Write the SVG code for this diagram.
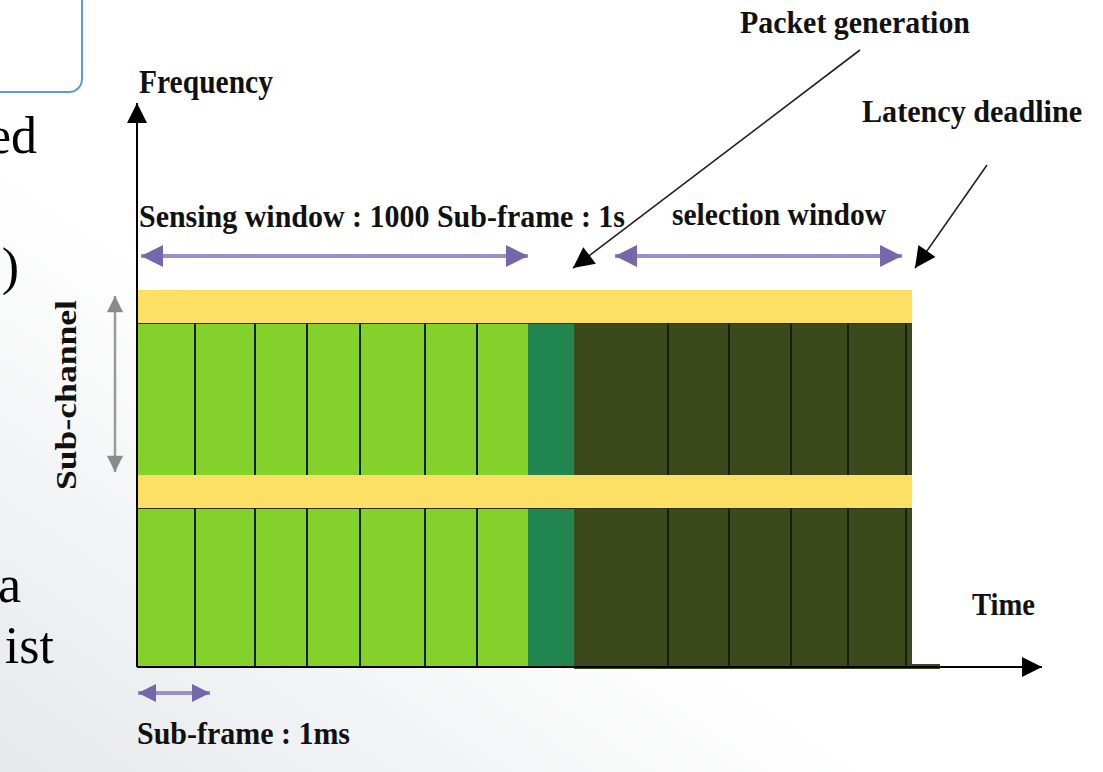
<svg xmlns="http://www.w3.org/2000/svg" width="1103" height="772" viewBox="0 0 1103 772">
<defs>
<style>
.lbl{font-family:"Liberation Serif","Times New Roman",serif;font-weight:bold;fill:#111;}
.body{font-family:"Liberation Serif","Times New Roman",serif;fill:#000;font-size:52px;}
.vline{stroke:#15200c;stroke-width:2;}
.purple{stroke:#9a90c6;stroke-width:4;fill:none;}
.blk{stroke:#222;stroke-width:1.6;fill:none;}
</style>
<marker id="pur" viewBox="0 0 10 10" refX="10" refY="5" markerWidth="6" markerHeight="5.5" markerUnits="strokeWidth" orient="auto-start-reverse"><path d="M0,0 L10,5 L0,10 z" fill="#7467ab"/></marker>
<marker id="purS" viewBox="0 0 10 10" refX="10" refY="5" markerWidth="4.5" markerHeight="4.5" markerUnits="strokeWidth" orient="auto-start-reverse"><path d="M0,0 L10,5 L0,10 z" fill="#7467ab"/></marker>
<marker id="blkA" viewBox="0 0 10 10" refX="10" refY="5" markerWidth="15" markerHeight="10" markerUnits="strokeWidth" orient="auto"><path d="M0,0 L10,5 L0,10 z" fill="#000"/></marker>
<marker id="blkP" viewBox="0 0 10 10" refX="10" refY="5" markerWidth="16" markerHeight="13" markerUnits="strokeWidth" orient="auto"><path d="M0,0 L10,5 L0,10 z" fill="#000"/></marker>
<marker id="grayA" viewBox="0 0 10 10" refX="10" refY="5" markerWidth="9" markerHeight="6.5" markerUnits="strokeWidth" orient="auto-start-reverse"><path d="M0,0 L10,5 L0,10 z" fill="#8a8a8a"/></marker>
<linearGradient id="bg" x1="0" y1="1" x2="0.4" y2="0.6">
<stop offset="0" stop-color="#e6e8ea"/>
<stop offset="1" stop-color="#ffffff"/>
</linearGradient>
</defs>
<rect width="1103" height="772" fill="url(#bg)"/>

<g id="topbox">
<rect x="-20" y="-20" width="102" height="112" rx="13" ry="13" fill="#fff" stroke="#5b9bd5" stroke-width="2"/>
</g>

<g id="slide-text">
<text class="body" x="37" y="153" text-anchor="end">ed</text>
<text class="body" x="19" y="284" text-anchor="end">)</text>
<text class="body" x="21" y="602" text-anchor="end">a</text>
<text class="body" x="54" y="663" text-anchor="end">ist</text>
</g>

<g id="grid">
<rect x="137" y="290" width="775" height="33" fill="#fce066"/>
<rect x="137" y="475" width="775" height="33" fill="#fce066"/>
<rect x="137" y="323" width="391" height="152" fill="#84d12c"/>
<rect x="137" y="508" width="391" height="159" fill="#84d12c"/>
<rect x="528" y="323" width="46" height="152" fill="#21854f"/>
<rect x="528" y="508" width="46" height="159" fill="#21854f"/>
<rect x="574" y="323" width="338" height="152" fill="#3c4a1b"/>
<rect x="574" y="508" width="338" height="159" fill="#3c4a1b"/>
<rect x="574" y="664" width="366" height="5" fill="#3c4a1b"/>
<line x1="137" y1="323.5" x2="912" y2="323.5" stroke="#2a3010" stroke-width="1"/>
<line x1="137" y1="508.5" x2="912" y2="508.5" stroke="#2a3010" stroke-width="1"/>
<g class="vline">
<line x1="195" y1="323" x2="195" y2="475"/><line x1="195" y1="508" x2="195" y2="667"/>
<line x1="255" y1="323" x2="255" y2="475"/><line x1="255" y1="508" x2="255" y2="667"/>
<line x1="307" y1="323" x2="307" y2="475"/><line x1="307" y1="508" x2="307" y2="667"/>
<line x1="360" y1="323" x2="360" y2="475"/><line x1="360" y1="508" x2="360" y2="667"/>
<line x1="425" y1="323" x2="425" y2="475"/><line x1="425" y1="508" x2="425" y2="667"/>
<line x1="477" y1="323" x2="477" y2="475"/><line x1="477" y1="508" x2="477" y2="667"/>
<line x1="668" y1="323" x2="668" y2="475"/><line x1="668" y1="508" x2="668" y2="667"/>
<line x1="729" y1="323" x2="729" y2="475"/><line x1="729" y1="508" x2="729" y2="667"/>
<line x1="791" y1="323" x2="791" y2="475"/><line x1="791" y1="508" x2="791" y2="667"/>
<line x1="848" y1="323" x2="848" y2="475"/><line x1="848" y1="508" x2="848" y2="667"/>
<line x1="906" y1="323" x2="906" y2="475"/><line x1="906" y1="508" x2="906" y2="667"/>
</g>
</g>

<g id="labels">
<text class="lbl" x="139" y="93" font-size="33" textLength="134" lengthAdjust="spacingAndGlyphs">Frequency</text>
<text class="lbl" x="139" y="227" font-size="32" textLength="486" lengthAdjust="spacingAndGlyphs">Sensing window : 1000 Sub-frame : 1s</text>
<text class="lbl" x="672" y="225" font-size="32" textLength="214" lengthAdjust="spacingAndGlyphs">selection window</text>
<text class="lbl" x="740" y="33" font-size="32" textLength="230" lengthAdjust="spacingAndGlyphs">Packet generation</text>
<text class="lbl" x="862" y="122" font-size="32" textLength="220" lengthAdjust="spacingAndGlyphs">Latency deadline</text>
<text class="lbl" x="972" y="615" font-size="31" textLength="63" lengthAdjust="spacingAndGlyphs">Time</text>
<text class="lbl" x="137" y="744" font-size="31" textLength="213" lengthAdjust="spacingAndGlyphs">Sub-frame : 1ms</text>
<text class="lbl" transform="translate(76,490) rotate(-90)" x="0" y="0" font-size="29" textLength="190" lengthAdjust="spacingAndGlyphs">Sub-channel</text>
</g>

<g id="connectors">
<line x1="137" y1="667" x2="137" y2="103" stroke="#000" stroke-width="2" marker-end="url(#blkA)"/>
<line x1="137" y1="667" x2="1042" y2="667" stroke="#000" stroke-width="2" marker-end="url(#blkA)"/>
<line x1="115" y1="296" x2="115" y2="472" stroke="#9a9a9a" stroke-width="2.5" marker-start="url(#grayA)" marker-end="url(#grayA)"/>
<line class="purple" x1="141" y1="256" x2="528" y2="256" marker-start="url(#pur)" marker-end="url(#pur)"/>
<line class="purple" x1="615" y1="256" x2="902" y2="256" marker-start="url(#pur)" marker-end="url(#pur)"/>
<line class="purple" x1="138" y1="693" x2="210" y2="693" marker-start="url(#purS)" marker-end="url(#purS)"/>
<line class="blk" x1="860" y1="50" x2="573" y2="268" marker-end="url(#blkP)"/>
<line class="blk" x1="987" y1="165" x2="915" y2="268" marker-end="url(#blkP)"/>
</g>
</svg>
